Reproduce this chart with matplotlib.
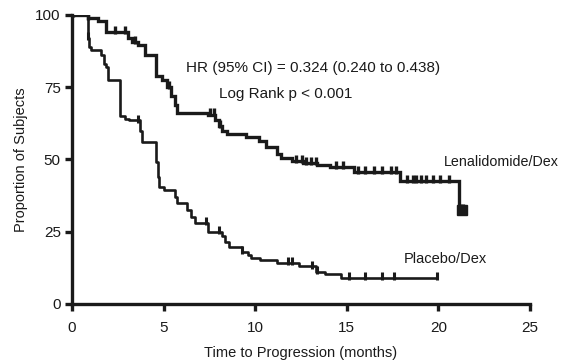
import numpy as np
import matplotlib
matplotlib.use("Agg")
import matplotlib.pyplot as plt

# Kaplan-Meier step data (months, % without progression)
len_t = [0, 0.9, 1.4, 1.85, 3.05, 3.3, 3.6, 4.0, 4.6, 4.9, 5.2, 5.4, 5.6, 5.75,
         7.4, 7.8, 8.0, 8.2, 8.45, 9.5, 10.2, 10.6, 11.2, 11.4, 12.0, 12.6,
         13.4, 14.1, 15.4, 17.9, 21.1, 21.45]
len_s = [100, 99, 98, 94, 92, 90.6, 89.6, 86, 79, 77.5, 75, 72, 69, 66,
         65.5, 63.5, 61.5, 60, 58.8, 57.8, 56.5, 54.3, 52, 50.5, 49.3, 48.8,
         48, 47.4, 45.5, 42.5, 32.5, 32.5]
len_cens = [0.05, 0.9, 2.35, 2.9, 3.45, 5.3, 7.55, 7.75, 8.1, 12.25, 12.55, 12.8,
            13.05, 13.3, 14.4, 14.8, 15.6, 16.0, 16.5, 16.9, 17.4, 17.7,
            18.3, 18.6, 18.8, 19.05, 19.3, 19.7, 20.1, 20.6, 21.2, 21.35]

pla_t = [0, 0.85, 0.9, 0.95, 1.05, 1.6, 1.75, 1.85, 1.95, 2.65, 2.9, 3.1, 3.7,
         3.8, 4.6, 4.7, 4.75, 5.0, 5.6, 5.75, 6.3, 6.5, 6.7, 7.4, 8.2, 8.35,
         8.6, 9.3, 9.6, 9.75, 10.25, 11.2, 12.4, 13.3, 13.8, 14.7, 19.9]
pla_s = [100, 96, 92, 89, 88, 86, 83, 82, 77.5, 65, 64, 63.5, 60,
         56, 49, 44, 40.5, 39.5, 37, 35, 32.5, 30, 28, 25, 23.5, 21.5,
         19.7, 18, 17, 16, 15.2, 14.2, 13, 11, 10.4, 9, 9]
pla_cens = [0.9, 3.6, 7.3, 8.0, 9.3, 11.8, 12.0, 13.1, 13.4, 15.1, 16.0, 16.9,
            17.6, 19.9]

x_ticks = [0, 5, 10, 15, 20, 25]
y_ticks = [0, 25, 50, 75, 100]

plt.rcParams['font.family'] = ['Liberation Sans', 'DejaVu Sans']
ink = '#1a1a1a'


def surv_at(t_list, s_list, t):
    idx = np.searchsorted(t_list, t, side='right') - 1
    return np.asarray(s_list)[idx]


fig = plt.figure(figsize=(5.62, 3.64), dpi=100)
ax = fig.add_axes([0.128, 0.165, 0.815, 0.794])

ax.step(len_t, len_s, where='post', color=ink, lw=2.4, solid_joinstyle='miter')
ax.step(pla_t, pla_s, where='post', color=ink, lw=1.9)
ax.plot(len_cens, surv_at(len_t, len_s, len_cens) + 0.8, ls='none', marker='|',
        ms=6, mew=2.4, color=ink)
ax.plot(pla_cens, surv_at(pla_t, pla_s, pla_cens) + 0.6, ls='none', marker='|',
        ms=6, mew=2.2, color=ink)
ax.plot([21.3], [32.5], ls='none', marker='s', ms=6.5, color=ink)

ax.set_xlim(0, 25)
ax.set_ylim(0, 100)
ax.set_xticks(x_ticks)
ax.set_yticks(y_ticks)
for s in ['top', 'right']:
    ax.spines[s].set_visible(False)
for s in ['left', 'bottom']:
    ax.spines[s].set_linewidth(2.4)
    ax.spines[s].set_color(ink)
ax.tick_params(width=2.4, length=5, color=ink, labelsize=11, labelcolor=ink)
ax.tick_params(axis='x', pad=7)
ax.tick_params(axis='y', pad=3)
ax.set_xlabel('Time to Progression (months)', fontsize=10.5, color=ink, labelpad=8)
ax.set_ylabel('Proportion of Subjects', fontsize=10.5, color=ink, labelpad=5)

ax.text(6.25, 81.5, 'HR (95% CI) = 0.324 (0.240 to 0.438)', fontsize=11, color=ink,
        va='center', ha='left')
ax.text(8.05, 72.8, 'Log Rank p < 0.001', fontsize=11, color=ink, va='center', ha='left')
ax.text(20.3, 49.0, 'Lenalidomide/Dex', fontsize=10.3, color=ink, va='center', ha='left')
ax.text(18.1, 15.5, 'Placebo/Dex', fontsize=10.5, color=ink, va='center', ha='left')

fig.savefig('out.png', dpi=100)
